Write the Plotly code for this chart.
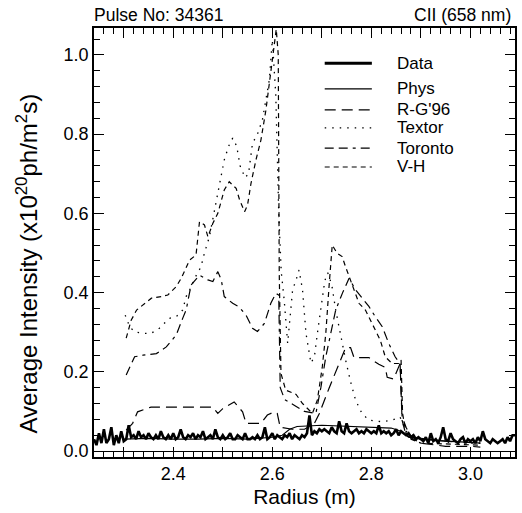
import numpy as np
import plotly.graph_objects as go

# ---------------- data ----------------
# Measured data: sampled every 0.005 m from 2.240 to 3.090
data_r0, data_dr = 2.240, 0.005
data_vals = [
    0.03, 0.015, 0.045, 0.02, 0.055, 0.02, 0.03, 0.06, 0.015, 0.04, 0.02, 0.05, 0.025,
    0.03, 0.065, 0.035, 0.04, 0.03, 0.05, 0.035, 0.04, 0.03, 0.045, 0.035, 0.03, 0.04, 0.03, 0.05, 0.035, 0.03, 0.04, 0.03, 0.045,
    0.03, 0.035, 0.055, 0.035, 0.03, 0.04, 0.035, 0.045, 0.03, 0.04, 0.035, 0.05, 0.03, 0.035, 0.04, 0.03, 0.055, 0.035, 0.03, 0.04,
    0.03, 0.035, 0.045, 0.03, 0.03, 0.04, 0.035, 0.03, 0.045, 0.03, 0.03, 0.035, 0.03, 0.04, 0.03, 0.035, 0.06, 0.03, 0.035, 0.045,
    0.03, 0.04, 0.035, 0.03, 0.04, 0.035, 0.045, 0.03, 0.04, 0.035, 0.03, 0.04, 0.035, 0.045, 0.09, 0.04, 0.05, 0.045, 0.055, 0.05,
    0.055, 0.05, 0.045, 0.06, 0.05, 0.045, 0.075, 0.05, 0.045, 0.07, 0.05, 0.045, 0.05, 0.055, 0.045, 0.05, 0.045, 0.055, 0.05, 0.045,
    0.05, 0.045, 0.065, 0.045, 0.05, 0.045, 0.05, 0.04, 0.045, 0.055, 0.04, 0.05, 0.045, 0.04, 0.045, 0.035, 0.04, 0.03, 0.035, 0.03,
    0.025, 0.035, 0.02, 0.045, 0.025, 0.03, 0.02, 0.035, 0.06, 0.03, 0.025, 0.045, 0.03, 0.025, 0.02, 0.03, 0.035, 0.02, 0.03, 0.025,
    0.03, 0.02, 0.035, 0.025, 0.05, 0.03, 0.025, 0.02, 0.03, 0.025, 0.02, 0.025, 0.03, 0.02, 0.035, 0.025, 0.04, 0.04,
]
data_x = np.round(data_r0 + data_dr * np.arange(len(data_vals)), 3)

phys_x = [2.30, 2.35, 2.40, 2.45, 2.50, 2.55, 2.60, 2.62, 2.635, 2.65, 2.70, 2.75, 2.80, 2.84, 2.86, 2.875, 2.90, 2.95, 3.00, 3.02]
phys_y = [0.03, 0.032, 0.03, 0.03, 0.032, 0.03, 0.035, 0.04, 0.055, 0.062, 0.065, 0.062, 0.06, 0.058, 0.05, 0.035, 0.03, 0.025, 0.022, 0.02]

rg_x = [2.305, 2.318, 2.328, 2.355, 2.40, 2.44, 2.48, 2.49, 2.50, 2.523, 2.54, 2.547, 2.577, 2.59, 2.604, 2.61,
        2.616, 2.64, 2.665, 2.685, 2.695, 2.715, 2.735, 2.748, 2.758, 2.765, 2.795, 2.815, 2.828, 2.832, 2.845,
        2.858, 2.862, 2.87, 2.90, 2.95, 3.00, 3.02]
rg_y = [0.053, 0.07, 0.099, 0.111, 0.111, 0.111, 0.111, 0.095, 0.107, 0.124, 0.099, 0.07, 0.07, 0.091, 0.099, 0.095,
        0.06, 0.055, 0.055, 0.07, 0.095, 0.16, 0.219, 0.261, 0.261, 0.236, 0.236, 0.219, 0.211, 0.186, 0.182,
        0.221, 0.078, 0.04, 0.02, 0.012, 0.012, 0.01]

textor_x = [2.303, 2.312, 2.322, 2.339, 2.355, 2.372, 2.392, 2.406, 2.419, 2.426, 2.433, 2.445, 2.456, 2.463, 2.473,
            2.49, 2.503, 2.512, 2.52, 2.528, 2.535, 2.545, 2.552, 2.56, 2.57, 2.58, 2.587, 2.594, 2.597, 2.60,
            2.607, 2.613, 2.618, 2.624, 2.631, 2.641, 2.648, 2.654, 2.661, 2.668, 2.678, 2.685, 2.691, 2.698,
            2.706, 2.712, 2.72, 2.728, 2.738, 2.748, 2.758, 2.768, 2.781, 2.795, 2.822, 2.842, 2.858, 2.87,
            2.90, 2.95, 3.00, 3.02]
textor_y = [0.343, 0.314, 0.301, 0.297, 0.297, 0.31, 0.335, 0.339, 0.356, 0.39, 0.406, 0.44, 0.465, 0.50, 0.541,
            0.651, 0.735, 0.77, 0.79, 0.77, 0.72, 0.69, 0.70, 0.777, 0.80, 0.836, 0.886, 0.937, 0.987, 1.038,
            0.90, 0.60, 0.453, 0.381, 0.272, 0.407, 0.432, 0.457, 0.407, 0.297, 0.222, 0.238, 0.297, 0.356,
            0.43, 0.45, 0.42, 0.356, 0.29, 0.23, 0.175, 0.129, 0.095, 0.078, 0.074, 0.078, 0.086, 0.05,
            0.03, 0.025, 0.02, 0.02]

toronto_x = [2.305, 2.322, 2.339, 2.366, 2.386, 2.406, 2.419, 2.426, 2.436, 2.453, 2.47, 2.48, 2.49, 2.497, 2.503,
             2.52, 2.533, 2.547, 2.56, 2.57, 2.584, 2.597, 2.607, 2.613, 2.616, 2.625, 2.645, 2.665, 2.688, 2.698,
             2.708, 2.718, 2.728, 2.742, 2.755, 2.768, 2.782, 2.795, 2.808, 2.822, 2.835, 2.848, 2.858, 2.862,
             2.87, 2.88, 2.95, 3.00, 3.02]
toronto_y = [0.192, 0.238, 0.242, 0.246, 0.263, 0.293, 0.335, 0.356, 0.419, 0.444, 0.432, 0.428, 0.453, 0.432, 0.39,
             0.373, 0.364, 0.343, 0.31, 0.302, 0.322, 0.373, 0.398, 0.394, 0.16, 0.13, 0.115, 0.10, 0.095, 0.16,
             0.238, 0.30, 0.356, 0.40, 0.436, 0.407, 0.385, 0.365, 0.339, 0.314, 0.272, 0.238, 0.221, 0.087,
             0.06, 0.035, 0.025, 0.022, 0.02]

vh_x = [2.305, 2.315, 2.326, 2.339, 2.356, 2.376, 2.389, 2.406, 2.416, 2.433, 2.446, 2.453, 2.463, 2.47, 2.48,
        2.49, 2.503, 2.513, 2.527, 2.534, 2.544, 2.55, 2.557, 2.567, 2.577, 2.587, 2.595, 2.603, 2.608, 2.612,
        2.614, 2.6175, 2.627, 2.648, 2.661, 2.681, 2.691, 2.701, 2.708, 2.715, 2.721, 2.731, 2.741, 2.748,
        2.758, 2.775, 2.788, 2.805, 2.818, 2.828, 2.842, 2.855, 2.86, 2.863, 2.87, 2.88, 2.90, 2.95, 3.00, 3.02]
vh_y = [0.285, 0.33, 0.356, 0.369, 0.386, 0.39, 0.394, 0.415, 0.436, 0.482, 0.495, 0.579, 0.571, 0.541, 0.575,
        0.60, 0.659, 0.68, 0.663, 0.634, 0.604, 0.621, 0.676, 0.735, 0.785, 0.86, 0.94, 1.03, 1.065, 1.0,
        0.45, 0.196, 0.154, 0.143, 0.12, 0.095, 0.129, 0.213, 0.297, 0.423, 0.52, 0.499, 0.491, 0.465,
        0.432, 0.373, 0.356, 0.314, 0.28, 0.238, 0.221, 0.221, 0.23, 0.095, 0.045, 0.03, 0.02, 0.018, 0.015, 0.015]

x_tickvals = [2.3, 2.4, 2.5, 2.6, 2.7, 2.8, 2.9, 3.0]
x_ticktext = ["", "2.4", "", "2.6", "", "2.8", "", "3.0"]
y_tickvals = [0.0, 0.2, 0.4, 0.6, 0.8, 1.0]
y_ticktext = ["0.0", "0.2", "0.4", "0.6", "0.8", "1.0"]

# ---------------- figure ----------------
FONT = "Liberation Sans, Arial, Helvetica, sans-serif"
fig = go.Figure()

series = [
    ("Data", data_x, data_vals, dict(color="black", width=2.6)),
    ("Phys", phys_x, phys_y, dict(color="black", width=1.1)),
    ("R-G'96", rg_x, rg_y, dict(color="black", width=1.2, dash="11px,6px")),
    ("Textor", textor_x, textor_y, dict(color="black", width=1.3, dash="1.5px,6px")),
    ("Toronto", toronto_x, toronto_y, dict(color="black", width=1.2, dash="9px,5px,9px,5px,3px,5px")),
    ("V-H", vh_x, vh_y, dict(color="black", width=1.2, dash="5px,4px")),
]
for name, xs, ys, line in series:
    fig.add_trace(go.Scatter(x=xs, y=ys, mode="lines", name=name, line=line, showlegend=False))

# hand-placed legend (line samples + labels), paper coordinates
leg_rows_y = [0.918, 0.858, 0.809, 0.767, 0.720, 0.676]
leg_x0, leg_x1, leg_tx = 0.548, 0.660, 0.714
shapes = []
annotations = []
for (name, _, _, line), yy in zip(series, leg_rows_y):
    shapes.append(dict(type="line", xref="paper", yref="paper", x0=leg_x0, x1=leg_x1, y0=yy, y1=yy,
                       line=dict(color="black", width=line["width"] + (0.4 if name == "Data" else 0),
                                 dash=line.get("dash", "solid"))))
    annotations.append(dict(text=name, xref="paper", yref="paper", x=leg_tx, y=yy, xanchor="left",
                            yanchor="middle", showarrow=False, font=dict(size=17)))

annotations += [
    dict(text="Pulse No: 34361", x=0, y=1, xref="paper", yref="paper", xanchor="left", yanchor="bottom",
         showarrow=False, font=dict(size=17.5), yshift=1, xshift=-2),
    dict(text="CII (658 nm)", x=1, y=1, xref="paper", yref="paper", xanchor="right", yanchor="bottom",
         showarrow=False, font=dict(size=17.5), yshift=1, xshift=-2),
    dict(text="Average Intensity (x10<sup>20</sup>ph/m<sup>2</sup>s)", x=-0.158, y=0.452, xref="paper",
         yref="paper", xanchor="center", yanchor="middle", textangle=-90, showarrow=False,
         font=dict(size=24)),
]

fig.update_layout(
    width=522, height=513,
    margin=dict(l=94, r=5, t=28, b=56),
    paper_bgcolor="white", plot_bgcolor="white",
    font=dict(family=FONT, color="black", size=17),
    showlegend=False,
    shapes=shapes,
    annotations=annotations,
)
fig.update_xaxes(
    range=[2.24, 3.09], tickvals=x_tickvals, ticktext=x_ticktext,
    ticks="inside", ticklen=10, tickwidth=1, tickcolor="black",
    minor=dict(ticks="inside", ticklen=6, dtick=0.02, tick0=2.0, tickcolor="black", tickwidth=1),
    showline=True, linecolor="black", linewidth=1.5, mirror="ticks",
    showgrid=False, zeroline=False, tickfont=dict(size=18),
    title=dict(text="Radius (m)", font=dict(size=21), standoff=6),
)
fig.update_yaxes(
    range=[-0.015, 1.068], tickvals=y_tickvals, ticktext=y_ticktext,
    ticks="inside", ticklen=10, tickwidth=1, tickcolor="black",
    minor=dict(ticks="inside", ticklen=6, dtick=0.04, tick0=0.0, tickcolor="black", tickwidth=1),
    showline=True, linecolor="black", linewidth=1.5, mirror="ticks",
    showgrid=False, zeroline=True, zerolinecolor="black", zerolinewidth=1,
    tickfont=dict(size=18),
)

fig.write_html("out.html")
